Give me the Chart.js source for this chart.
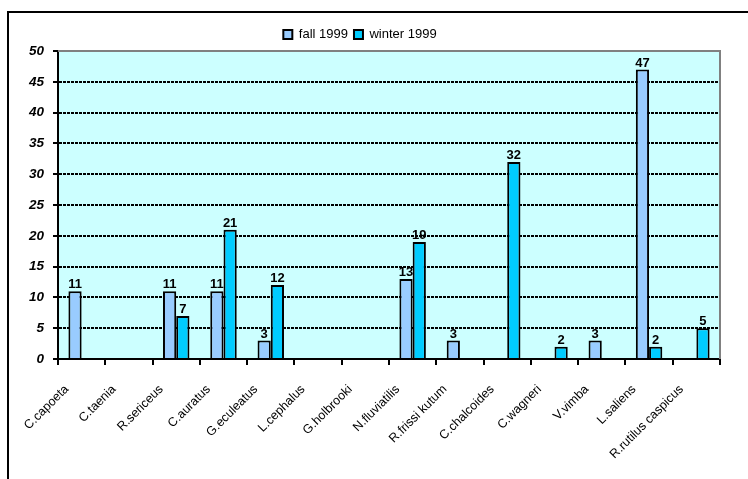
<!DOCTYPE html>
<html>
<head>
<meta charset="utf-8">
<script src="https://cdn.jsdelivr.net/npm/chart.js@4/dist/chart.umd.min.js"></script>
<style>
    html, body { margin: 0; padding: 0; background: #fff; overflow: hidden; }
    #frame { position: absolute; left: 7px; top: 11px; width: 800px; height: 520px; border: 2px solid #000; }
    #wrap { position: absolute; left: 0; top: 0; width: 748px; height: 479px; }
</style>
</head>
<body>
<div id="frame"></div>
<div id="wrap"><canvas id="myChart"></canvas></div>
<script>
const species = ["C.capoeta", "C.taenia", "R.sericeus", "C.auratus", "G.eculeatus", "L.cephalus", "G.holbrooki",
    "N.fluviatilis", "R.frissi kutum", "C.chalcoides", "C.wagneri", "V.vimba", "L.saliens", "R.rutilus caspicus"];
const fall1999 = [11, null, 11, 11, 3, null, null, 13, 3, null, null, 3, 47, null];
const winter1999 = [null, null, 7, 21, 12, null, null, 19, null, 32, 2, null, 2, 5];

const fontName = "'Liberation Sans', Arial, sans-serif";

// light cyan plot background + grey frame on top/right
const plotArea = {
    id: 'plotArea',
    beforeDraw: chart => {
        const { ctx, chartArea: a } = chart;
        ctx.save();
        ctx.fillStyle = '#CCFFFF';
        ctx.fillRect(a.left, a.top, a.right - a.left, a.bottom - a.top);
        ctx.restore();
    },
    beforeDatasetsDraw: chart => {
        const { ctx, chartArea: a } = chart;
        ctx.save();
        ctx.strokeStyle = '#808080';
        ctx.lineWidth = 2;
        ctx.beginPath();
        ctx.moveTo(a.left, a.top);
        ctx.lineTo(a.right, a.top);
        ctx.lineTo(a.right, a.bottom);
        ctx.stroke();
        ctx.restore();
    }
};

// value labels on top of bars
const barValues = {
    id: 'barValues',
    afterDatasetsDraw: chart => {
        const ctx = chart.ctx;
        ctx.save();
        ctx.font = "bold 13px " + fontName;
        ctx.fillStyle = '#000';
        ctx.textAlign = 'center';
        ctx.textBaseline = 'bottom';
        chart.data.datasets.forEach((ds, i) => {
            chart.getDatasetMeta(i).data.forEach((bar, j) => {
                if (ds.data[j] == null) return;
                ctx.fillText(ds.data[j], bar.x, bar.y);
            });
        });
        ctx.restore();
    }
};

const ctx = document.getElementById('myChart').getContext('2d');
new Chart(ctx, {
    type: 'bar',
    data: {
        labels: species,
        datasets: [{
            label: "fall 1999",
            data: fall1999,
            backgroundColor: '#99CCFF',
            borderColor: '#000',
            borderWidth: 2,
            categoryPercentage: 0.56,
            barPercentage: 1
        }, {
            label: "winter 1999",
            data: winter1999,
            backgroundColor: '#00CCFF',
            borderColor: '#000',
            borderWidth: 2,
            categoryPercentage: 0.56,
            barPercentage: 1
        }]
    },
    options: {
        responsive: true,
        maintainAspectRatio: false,
        animation: false,
        layout: { padding: { left: 0, right: 28, top: 22, bottom: 0 } },
        plugins: {
            legend: {
                position: 'top',
                labels: {
                    boxWidth: 9,
                    boxHeight: 9,
                    padding: 6,
                    color: '#000',
                    font: { family: fontName, size: 13 }
                }
            },
            tooltip: { enabled: false }
        },
        scales: {
            x: {
                afterFit: scale => { scale.height = 120; },
                grid: {
                    drawOnChartArea: false,
                    color: '#000',
                    tickLength: 6,
                    lineWidth: 2
                },
                border: { color: '#000', width: 2 },
                ticks: {
                    autoSkip: false,
                    minRotation: 45,
                    maxRotation: 45,
                    color: '#000',
                    padding: 17,
                    labelOffset: -15,
                    font: { family: fontName, size: 12.5 }
                }
            },
            y: {
                min: 0,
                max: 50,
                afterFit: scale => { scale.width = 58; },
                grid: {
                    color: ctx => ctx.tick && ctx.tick.value === 50 ? 'rgba(0,0,0,0)' : '#000',
                    tickColor: '#000',
                    tickLength: 5,
                    tickBorderDash: [],
                    lineWidth: 2
                },
                border: { color: '#000', width: 2, dash: [3, 1] },
                ticks: {
                    stepSize: 5,
                    color: '#000',
                    padding: 9,
                    font: { family: fontName, size: 13.5, weight: 'bold', style: 'italic' }
                }
            }
        }
    },
    plugins: [plotArea, barValues]
});
</script>
</body>
</html>
